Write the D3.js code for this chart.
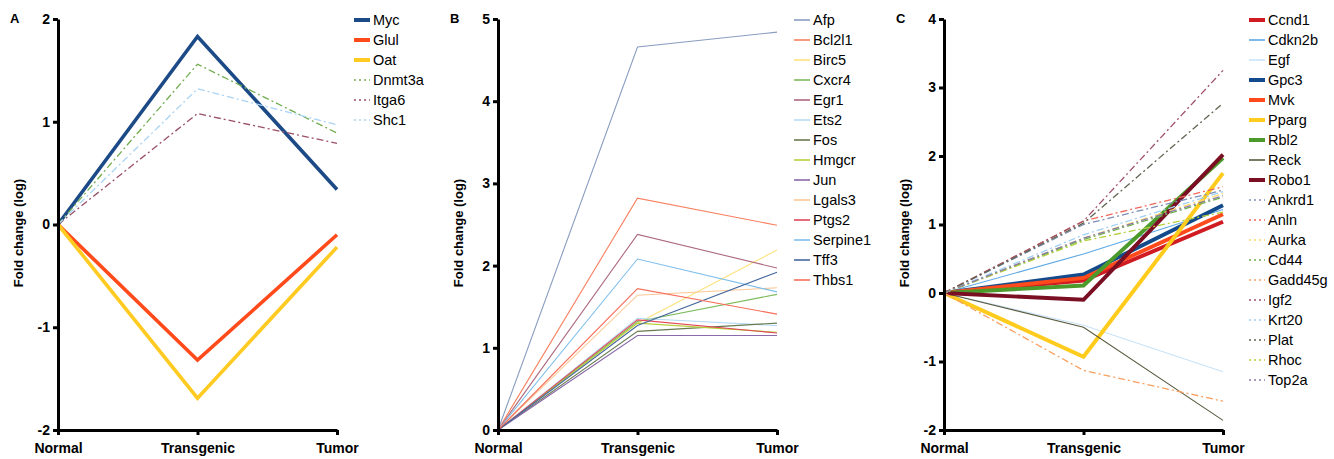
<!DOCTYPE html>
<html>
<head>
  <meta charset="utf-8">
  <title>Fold change panels</title>
  <script src="https://cdn.jsdelivr.net/npm/d3@7/dist/d3.min.js"></script>
  <style>
    body { margin: 0; background: #fff; }
    svg { font-family: "Liberation Sans", Arial, sans-serif; }
    .axis path, .axis line { stroke: #000; stroke-width: 3px; }
    .axis text { font-size: 14px; font-weight: bold; fill: #000; }
    .legend text { font-size: 14.5px; fill: #000; }
    .series { fill: none; }
  </style>
</head>
<body>
  <div id="chart"></div>
  <script>
    const stages = ["Normal", "Transgenic", "Tumor"];

    // panel A
    const genesA = ["Myc", "Glul", "Oat", "Dnmt3a", "Itga6", "Shc1"];
    const valuesA = [
      [0, 1.83, 0.34],
      [0, -1.32, -0.10],
      [0, -1.69, -0.22],
      [0, 1.56, 0.89],
      [0, 1.08, 0.79],
      [0, 1.32, 0.97]
    ];
    const colorsA = ["#1c4a87", "#ff4a1c", "#ffcb22", "#72ad50", "#9a5068", "#a9d3f3"];
    const kindsA = ["thick", "thick", "thick", "dashdot", "dashdot", "dashdot"];
    const ticksA = [-2, -1, 0, 1, 2];

    // panel B
    const genesB = ["Afp", "Bcl2l1", "Birc5", "Cxcr4", "Egr1", "Ets2", "Fos", "Hmgcr",
      "Jun", "Lgals3", "Ptgs2", "Serpine1", "Tff3", "Thbs1"];
    const valuesB = [
      [0, 4.66, 4.84],
      [0, 2.82, 2.49],
      [0, 1.30, 2.19],
      [0, 1.32, 1.65],
      [0, 2.38, 1.97],
      [0, 1.36, 1.27],
      [0, 1.20, 1.30],
      [0, 1.30, 1.19],
      [0, 1.15, 1.15],
      [0, 1.64, 1.73],
      [0, 1.34, 1.18],
      [0, 2.08, 1.68],
      [0, 1.27, 1.92],
      [0, 1.72, 1.41]
    ];
    const colorsB = ["#8a9dc0", "#f7805f", "#fde27e", "#7dbb5c", "#ad6a7e", "#b7dcf6",
      "#687a50", "#b6d13a", "#8a6aaa", "#fcc894", "#e0485a", "#7fbfec", "#45689e", "#f56f5b"];
    const kindsB = genesB.map(() => "thin");
    const ticksB = [0, 1, 2, 3, 4, 5];

    // panel C
    const genesC = ["Ccnd1", "Cdkn2b", "Egf", "Gpc3", "Mvk", "Pparg", "Rbl2", "Reck", "Robo1",
      "Ankrd1", "Anln", "Aurka", "Cd44", "Gadd45g", "Igf2", "Krt20", "Plat", "Rhoc", "Top2a"];
    const valuesC = [
      [0, 0.18, 1.04],
      [0, 0.57, 1.22],
      [0, -0.47, -1.15],
      [0, 0.27, 1.28],
      [0, 0.22, 1.15],
      [0, -0.93, 1.75],
      [0, 0.11, 1.97],
      [0, -0.50, -1.86],
      [0, -0.10, 2.02],
      [0, 1.00, 1.50],
      [0, 1.05, 1.55],
      [0, 0.80, 1.45],
      [0, 0.78, 1.40],
      [0, -1.13, -1.58],
      [0, 1.05, 3.25],
      [0, 0.85, 1.48],
      [0, 1.02, 2.77],
      [0, 0.76, 1.18],
      [0, 0.80, 1.42]
    ];
    const colorsC = ["#cf1b21", "#5ea9e4", "#c9e4f8", "#134a8b", "#ff4a1c", "#ffcb1c", "#4b9a2b",
      "#5b5b40", "#7a0e22", "#7f8fb6", "#f2695a", "#fcd86a", "#6cb24d", "#f9a060", "#a1526b",
      "#a0d0f4", "#5f6752", "#b3d03c", "#8c7aa8"];
    const kindsC = ["thick", "thin", "thin", "thick", "thick", "thick", "thick", "thin", "thick",
      "dashdot", "dashdot", "dashdot", "dashdot", "dashdot", "dashdot", "dashdot", "dashdot", "dashdot", "dashdot"];
    const ticksC = [-2, -1, 0, 1, 2, 3, 4];

    const svg = d3.select("#chart")
      .append("svg")
        .attr("width", 1334)
        .attr("height", 459);

    const widths = { thick: 3.6, thin: 1.1, dashdot: 1.3 };

    function panel(p) {
      const x = d3.scalePoint().domain(stages).range([p.left, p.left + 279]);
      const y = d3.scaleLinear().domain(d3.extent(p.ticks)).range([430, 19]);
      const g = svg.append("g");

      // series
      p.genes.forEach((gene, i) => {
        const line = d3.line()
          .x((d, j) => x(stages[j]))
          .y(d => y(d));
        g.append("path")
          .attr("class", "series")
          .attr("d", line(p.values[i]))
          .attr("stroke", p.colors[i])
          .attr("stroke-width", widths[p.kinds[i]] * (p.kinds[i] == "thick" ? p.thick : 1))
          .attr("stroke-linejoin", "miter")
          .attr("stroke-dasharray", p.kinds[i] == "dashdot" ? "7,3,2,3" : null);
      });

      // axes
      g.append("g")
        .attr("class", "axis")
        .attr("transform", `translate(${p.left},0)`)
        .call(d3.axisLeft(y).tickValues(p.ticks).tickFormat(d => String(d)).tickSize(5).tickPadding(3).tickSizeOuter(0));
      g.append("g")
        .attr("class", "axis")
        .attr("transform", "translate(0,430)")
        .call(d3.axisBottom(x).tickSize(5).tickPadding(8).tickSizeOuter(0));

      // y title and panel letter
      g.append("text")
        .attr("transform", `translate(${p.left - 40},233) rotate(-90)`)
        .attr("text-anchor", "middle")
        .attr("dy", "0.35em")
        .style("font-size", "13px")
        .style("font-weight", "bold")
        .text("Fold change (log)");
      g.append("text")
        .attr("x", p.left - 48)
        .attr("y", 18)
        .attr("dy", "0.35em")
        .style("font-size", "13px")
        .style("font-weight", "bold")
        .text(p.letter);

      // legend
      const leg = g.append("g")
        .attr("class", "legend")
        .attr("transform", `translate(${p.legendX},20)`);
      p.genes.forEach((gene, i) => {
        const row = leg.append("g").attr("transform", `translate(0,${i * 20})`);
        row.append("line")
          .attr("x1", 0).attr("x2", 16)
          .attr("stroke", p.colors[i])
          .attr("stroke-width", p.kinds[i] == "thick" ? 4 : 1.6)
          .attr("stroke-dasharray", p.kinds[i] == "dashdot" ? "2,3" : null);
        row.append("text")
          .attr("x", 19)
          .attr("dy", "0.35em")
          .text(gene);
      });
    }

    panel({ letter: "A", left: 58, genes: genesA, values: valuesA, colors: colorsA,
      kinds: kindsA, ticks: ticksA, legendX: 354, thick: 1 });
    panel({ letter: "B", left: 498, genes: genesB, values: valuesB, colors: colorsB,
      kinds: kindsB, ticks: ticksB, legendX: 794, thick: 1 });
    panel({ letter: "C", left: 944, genes: genesC, values: valuesC, colors: colorsC,
      kinds: kindsC, ticks: ticksC, legendX: 1249, thick: 1.1 });
  </script>
</body>
</html>
